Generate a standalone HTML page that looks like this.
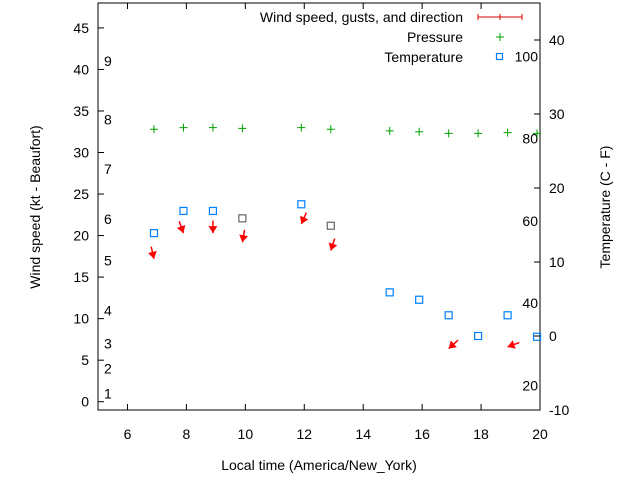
<!DOCTYPE html>
<html><head><meta charset="utf-8"><style>
body{margin:0;background:#fff}
svg{font-family:"Liberation Sans",sans-serif;font-size:14px}
</style></head><body>
<svg id="c" width="640" height="480" xmlns="http://www.w3.org/2000/svg">
<g id="g"></g>
</svg>
<script>
const hours=[6.9,7.9,8.9,9.9,11.9,12.9,14.9,15.9,16.9,17.9,18.9,19.9];
const temps=[13.9,16.9,16.9,15.9,17.8,14.9,5.9,4.9,2.8,0,2.8,-0.1];
const tempGray=[0,0,0,1,0,1,0,0,0,0,0,0];
const pressure=[32.8,33.0,33.0,32.9,33.0,32.8,32.6,32.5,32.3,32.3,32.4,32.3];
const windHours=[6.9,7.9,8.9,9.9,11.9,12.9,16.9,18.9];
const windSpeed=[17.2,20.3,20.3,19.2,21.4,18.2,6.4,6.6];
const windDir=[347,340,0,10,24,18,48,70];
const xTicks=[6,8,10,12,14,16,18,20];
const yTicks=[0,5,10,15,20,25,30,35,40,45];
const y2Ticks=[-10,0,10,20,30,40];
const beaufort=[[1,1],[2,4],[3,7],[4,11],[5,17],[6,22],[7,28],[8,34],[9,41]];
const fahr=[20,40,60,80,100];
const L=98,R=540,T=3,B=410;
const X=v=>L+(v-5)/15*(R-L);
const Y=v=>B-(v+1)/49*(B-T);
const Y2=v=>B-(v+10)/55*(B-T);
const F2C=f=>(f-32)*5/9;
const g=document.getElementById('g');
const NS='http://www.w3.org/2000/svg';
function el(t,a,txt){const e=document.createElementNS(NS,t);for(const k in a)e.setAttribute(k,a[k]);if(txt!==undefined)e.textContent=txt;g.appendChild(e);return e;}
let e;
e=el('rect',{x:L,y:T,width:R-L,height:B-T,fill:'none',stroke:'#000','stroke-width':1});

xTicks.forEach(t=>{const x=X(t);
e=el('line',{x1:x,y1:B,x2:x,y2:B-6,stroke:'#000'});
e=el('line',{x1:x,y1:T,x2:x,y2:T+6,stroke:'#000'});
e=el('text',{x:x,y:B+29,'text-anchor':'middle'},t);});
yTicks.forEach(t=>{const y=Y(t);
e=el('line',{x1:L,y1:y,x2:L+6,y2:y,stroke:'#000'});
e=el('text',{x:L-9,y:y+5,'text-anchor':'end'},t);});
y2Ticks.forEach(t=>{const y=Y2(t);
e=el('line',{x1:R,y1:y,x2:R-6,y2:y,stroke:'#000'});
e=el('text',{x:R+9,y:y+5,'text-anchor':'start'},t);});
beaufort.forEach(b=>{e=el('text',{x:104,y:Y(b[1])+5},b[0]);});
fahr.forEach(f=>{e=el('text',{x:538,y:Y2(F2C(f))+5,'text-anchor':'end'},f);});
e=el('text',{x:319,y:470,'text-anchor':'middle'},'Local time (America/New_York)');
e=el('text',{x:40,y:207,'text-anchor':'middle',transform:'rotate(-90 40 207)'},'Wind speed (kt - Beaufort)');
e=el('text',{x:610,y:207,'text-anchor':'middle',transform:'rotate(-90 610 207)'},'Temperature (C - F)');
hours.forEach((h,i)=>{const x=X(h),y=Y(pressure[i]);
e=el('path',{d:`M${x-4} ${y}H${x+4}M${x} ${y-4}V${y+4}`,stroke:'#00a000','stroke-width':1});});
hours.forEach((h,i)=>{const x=X(h),y=Y2(temps[i]);
e=el('rect',{x:x-3.5,y:y-3.5,width:7,height:7,fill:'none',stroke:tempGray[i]?'#666':'#0080ff','stroke-width':1.2});});
windHours.forEach((h,i)=>{const x=X(h),y=Y(windSpeed[i]);const a=windDir[i]*Math.PI/180;
const tx=x+12.5*Math.sin(a),ty=y-12.5*Math.cos(a);
const ux=(x-tx)/12.5,uy=(y-ty)/12.5;const px=-uy,py=ux;
e=el('line',{x1:tx,y1:ty,x2:x,y2:y,stroke:'#f00','stroke-width':1.5});
e=el('polygon',{points:`${x},${y} ${x-7*ux+4.5*px},${y-7*uy+4.5*py} ${x-7*ux-4.5*px},${y-7*uy-4.5*py}`,fill:'#f00'});});
e=el('text',{x:463,y:22,'text-anchor':'end'},'Wind speed, gusts, and direction');
e=el('path',{d:'M478 17H522M478 14V20M500 14V20M522 14V20',stroke:'#d00',fill:'none'});
e=el('text',{x:463,y:42,'text-anchor':'end'},'Pressure');
e=el('path',{d:'M496 37H504M500 33V41',stroke:'#00a000'});
e=el('text',{x:463,y:62,'text-anchor':'end'},'Temperature');
e=el('rect',{x:496.5,y:53.5,width:6,height:6,fill:'none',stroke:'#0080ff','stroke-width':1.2});
</script>
</body></html>
